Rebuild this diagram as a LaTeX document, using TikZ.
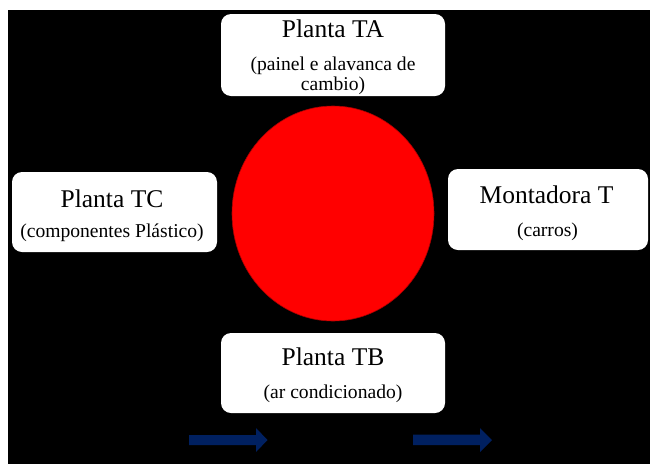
\documentclass[tikz,border=0pt]{standalone}
\usepackage{fontspec}
\setmainfont{Liberation Serif}
\usetikzlibrary{shapes.geometric}
\definecolor{navyarrow}{RGB}{0,32,96}
\definecolor{circred}{RGB}{255,0,0}
\definecolor{circedge}{RGB}{170,0,0}
\begin{document}
\begin{tikzpicture}[x=1pt,y=-1pt,
  plantbox/.style={fill=white,draw=none,rounded corners=10pt,inner sep=0pt},
  titletext/.style={anchor=base,inner sep=0pt,font=\fontsize{25.5}{28}\selectfont},
  subtext/.style={anchor=base,inner sep=0pt,font=\fontsize{19.6}{22}\selectfont},
  blockarrow/.style={fill=navyarrow,draw=none}]
\useasboundingbox (0,0) rectangle (650,464);
\fill[white] (0,0) rectangle (650,464);
\fill[black] (8,10) rectangle (650,464);
% boxes
\node[plantbox,minimum width=224pt,minimum height=82pt] (ta) at (333,55) {};
\node[plantbox,minimum width=224pt,minimum height=80pt] (tb) at (333,373) {};
\node[plantbox,minimum width=205pt,minimum height=80pt] (tc) at (114.5,212) {};
\node[plantbox,minimum width=200pt,minimum height=81pt] (mt) at (548,209.5) {};
% circle
\node[ellipse,fill=circred,draw=circedge,line width=0.6pt,minimum width=202pt,minimum height=215pt,inner sep=0pt] (core) at (333,213.5) {};
% texts
\node[titletext] (taT) at (333,37) {Planta TA};
\node[subtext] (taS1) at (333,70) {(painel e alavanca de};
\node[subtext] (taS2) at (333,90) {cambio)};
\node[titletext] (tcT) at (112,207) {Planta TC};
\node[subtext] (tcS) at (112,237) {(componentes Plástico)};
\node[titletext] (mtT) at (546.5,203) {Montadora T};
\node[subtext] (mtS) at (547.5,236) {(carros)};
\node[titletext] (tbT) at (333,365) {Planta TB};
\node[subtext] (tbS) at (333,398.5) {(ar condicionado)};
% arrows
\fill[blockarrow] (189,435) -- (256,435) -- (256,428) -- (267.5,440) -- (256,452) -- (256,445) -- (189,445) -- cycle;
\fill[blockarrow] (413,434.5) -- (480,434.5) -- (480,428) -- (492,440) -- (480,452) -- (480,445) -- (413,445) -- cycle;
\end{tikzpicture}
\end{document}
